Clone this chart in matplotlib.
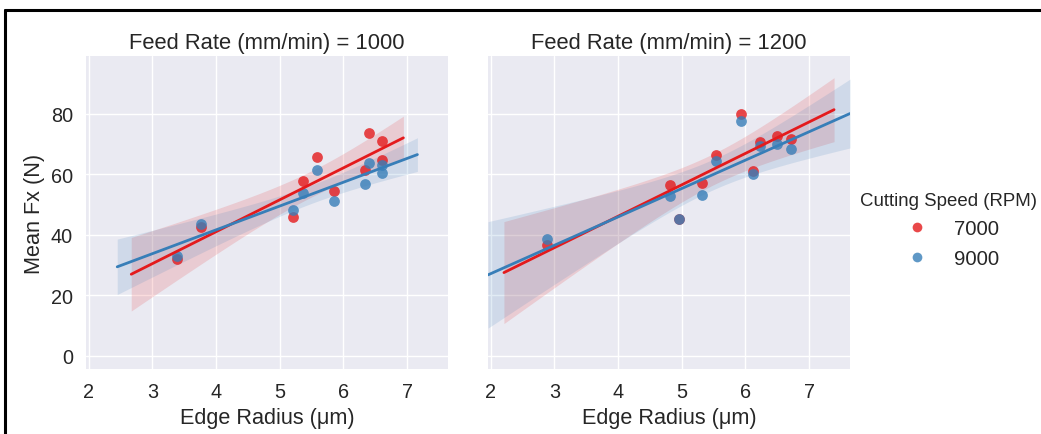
import matplotlib
matplotlib.use('Agg')
import matplotlib.pyplot as plt
import numpy as np
import seaborn as sns
from matplotlib.lines import Line2D

# data
feed_rates = [1000, 1200]
speeds = ['7000', '9000']

x_1000_7000 = [3.38, 3.77, 5.21, 5.36, 5.58, 5.85, 6.34, 6.40, 6.61, 6.61]
y_1000_7000 = [32.0, 42.7, 46.0, 57.6, 65.8, 54.6, 61.4, 73.5, 71.0, 64.7]
x_1000_9000 = [3.38, 3.77, 5.21, 5.36, 5.58, 5.85, 6.34, 6.40, 6.61, 6.61]
y_1000_9000 = [33.1, 43.4, 48.3, 53.8, 61.4, 51.3, 56.7, 63.7, 63.0, 60.3]

x_1200_7000 = [2.89, 4.81, 4.95, 5.32, 5.54, 5.93, 6.12, 6.22, 6.49, 6.71]
y_1200_7000 = [36.5, 56.3, 45.2, 57.0, 66.2, 79.9, 60.9, 70.5, 72.5, 71.5]
x_1200_9000 = [2.89, 4.81, 4.95, 5.32, 5.54, 5.93, 6.12, 6.22, 6.49, 6.71]
y_1200_9000 = [38.6, 52.8, 45.2, 53.1, 64.5, 77.5, 59.9, 69.3, 70.1, 68.3]

series = {
    (1000, '7000'): (x_1000_7000, y_1000_7000),
    (1000, '9000'): (x_1000_9000, y_1000_9000),
    (1200, '7000'): (x_1200_7000, y_1200_7000),
    (1200, '9000'): (x_1200_9000, y_1200_9000),
}
# extent of each fitted line
fit_range = {
    (1000, '7000'): (2.67, 6.94),
    (1000, '9000'): (2.45, 7.16),
    (1200, '7000'): (2.21, 7.39),
    (1200, '9000'): (1.96, 7.64),
}

sns.set_theme(style='darkgrid')
plt.rcParams['font.family'] = ['Liberation Sans', 'DejaVu Sans']
colors = dict(zip(speeds, sns.color_palette('Set1', 2)))

fig = plt.figure(figsize=(10.41, 4.35), dpi=100)
ax1 = fig.add_axes([86 / 1041, 65 / 435, 362 / 1041, 313 / 435])
ax2 = fig.add_axes([488 / 1041, 65 / 435, 362 / 1041, 313 / 435], sharey=ax1)


def fit_ci(x, y, grid):
    x = np.asarray(x)
    y = np.asarray(y)
    n = len(x)
    b, a = np.polyfit(x, y, 1)
    resid = y - (a + b * x)
    s = np.sqrt(np.sum(resid ** 2) / (n - 2))
    sxx = np.sum((x - x.mean()) ** 2)
    se = s * np.sqrt(1 / n + (grid - x.mean()) ** 2 / sxx)
    t = 2.306  # t(0.975, df=8)
    yhat = a + b * grid
    return yhat, yhat - t * se, yhat + t * se


for ax, fr in zip([ax1, ax2], feed_rates):
    for sp in speeds:
        x, y = series[(fr, sp)]
        c = colors[sp]
        ax.scatter(x, y, s=60, color=c, alpha=0.8, linewidths=0, zorder=3)
        grid = np.linspace(*fit_range[(fr, sp)], 100)
        yhat, lo, hi = fit_ci(x, y, grid)
        ax.plot(grid, yhat, color=c, lw=2, zorder=4)
        ax.fill_between(grid, lo, hi, color=c, alpha=0.15, linewidth=0, zorder=2)
    ax.set_title(f'Feed Rate (mm/min) = {fr}', fontsize=15.8, color='#262626')
    ax.set_xlabel('Edge Radius (μm)', fontsize=15.6, color='#262626')
    ax.set_xlim(1.96, 7.64)
    ax.set_xticks([2, 3, 4, 5, 6, 7])
    ax.tick_params(labelsize=14.3, colors='#262626')
    for s in ax.spines.values():
        s.set_visible(False)

ax1.set_ylim(-4.3, 99)
ax1.set_yticks([0, 20, 40, 60, 80])
ax1.set_ylabel('Mean Fx (N)', fontsize=15.6, color='#262626')
plt.setp(ax2.get_yticklabels(), visible=False)
ax2.tick_params(axis='y', length=0)

handles = [Line2D([], [], marker='o', ls='', color=colors[sp], alpha=0.8,
                  markersize=7, markeredgewidth=0) for sp in speeds]
leg = fig.legend(handles, speeds, title='Cutting Speed (RPM)', loc='center',
                 bbox_to_anchor=(948 / 1041, 1 - 231 / 435), frameon=False,
                 fontsize=14.6, title_fontsize=13.4, handletextpad=0.8, labelspacing=0.5)

# outer frame seen at the top and left of the picture
fig.add_artist(Line2D([5 / 1041, 1.0], [1 - 11 / 435, 1 - 11 / 435], color='black', lw=2.2))
fig.add_artist(Line2D([5 / 1041, 5 / 1041], [0, 1 - 11 / 435], color='black', lw=2.2))

fig.savefig('out.png', dpi=100)
